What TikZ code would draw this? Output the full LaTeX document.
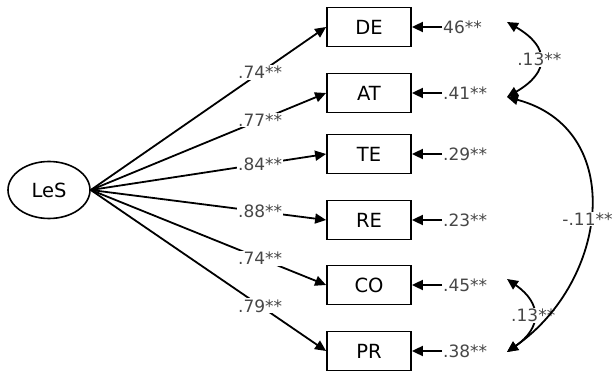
\documentclass[tikz,border=0pt]{standalone}
\usepackage[svgnames]{xcolor}
\usepackage{fontspec}
\setmainfont{DejaVu Sans}
\usepackage{tikz}
\usetikzlibrary{
  arrows.meta,
  shapes.geometric}

\tikzset{
  observed/.style={
    draw,
    line width=1.8pt,
    minimum width=84pt,
    minimum height=39pt,
    inner sep=0pt,
    font=\fontsize{19.5}{21}\selectfont},
  latent/.style={
    ellipse,
    draw,
    line width=1.6pt,
    minimum width=82pt,
    minimum height=57pt,
    inner sep=0pt,
    font=\fontsize{19.5}{21}\selectfont},
  coef/.style={
    fill=white,
    inner sep=1pt,
    text=black!72,
    font=\fontsize{17}{19}\selectfont},
  path arrow/.style={
    line width=1.8pt,
    -{Triangle[length=11pt,width=10pt]}},
  cov arrow/.style={
    line width=1.8pt,
    {Triangle[length=11pt,width=10pt]}-{Triangle[length=11pt,width=10pt]}},
}

\begin{document}
\begin{tikzpicture}[x=1pt,y=-1pt]
\useasboundingbox (0,0) rectangle (616,371);

\node[latent] (les) at (49,190) {LeS};

% indicators
\foreach \n/\t/\y in {de/DE/27, at/AT/93, te/TE/154, re/RE/220, co/CO/285, pr/PR/351}
  \node[observed] (\n) at (369,\y) {\t};

% loadings
\foreach \n/\v in {de/.74, at/.77, te/.84, re/.88, co/.74, pr/.79}
  \draw[path arrow] (les.east) -- node[coef,pos=0.72] {\v**} (\n.west);

% error terms
\foreach \n/\v/\y in {de/46/27, at/.41/93, te/.29/154, re/.23/220, co/.45/285, pr/.38/351}
{
  \node[coef,anchor=west] (e\n) at (442,\y) {\v**};
  \draw[path arrow] (e\n.west) -- (\n.east);
}

% covariances
\coordinate (cde) at (507,22);
\coordinate (cat) at (507,97);
\coordinate (cco) at (507,279);
\coordinate (cpr) at (507,352);

\draw[cov arrow] (cde) to[out=-30,in=30,looseness=1.7]
  node[coef,midway] {.13**} (cat);
\draw[cov arrow] (cco) to[out=-35,in=35,looseness=1.5]
  node[coef,midway] {.13**} (cpr);
\draw[cov arrow] (cat) to[out=-15,in=35,looseness=1.25]
  node[coef,pos=0.53,xshift=-2pt] {-.11**} (cpr);
\end{tikzpicture}
\end{document}
